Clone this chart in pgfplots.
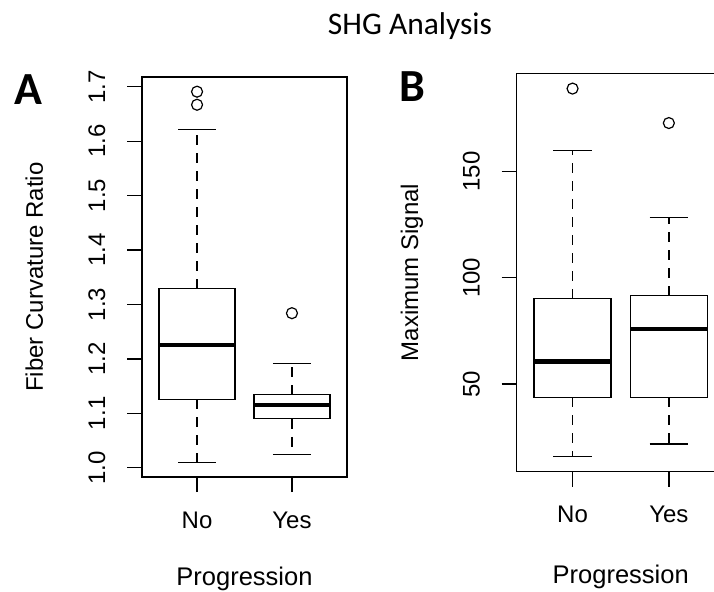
\documentclass[border=0pt]{standalone}
\usepackage{pgfplots}
\pgfplotsset{compat=1.18}
\usepgfplotslibrary{statistics}
\usepackage{fontspec}
\setmainfont{Liberation Sans}
\newfontfamily\carlito{Carlito}
\pgfplotsset{
  rbox/.style={
    scale only axis,
    axis line style={line width=1.3pt},
    tick pos=left, tick align=outside, major tick length=15pt,
    tick style={line width=1.3pt, black},
    xmin=0.42, xmax=2.58,
    xtick={1,2}, xticklabels={No,Yes},
    ticklabel style={font=\fontsize{24}{28}\selectfont},
    xticklabel style={yshift=-36pt, anchor=base, inner sep=0pt},
    yticklabel style={xshift=-22pt, rotate=90, anchor=base, inner sep=0pt},
    label style={font=\fontsize{24}{28}\selectfont},
    xlabel style={font=\fontsize{25.5}{30}\selectfont, anchor=base},
    ylabel style={anchor=base},
    /pgf/number format/assume math mode=true,
    boxplot/draw direction=y,
    boxplot/box extend=0.8,
    boxplot/whisker extend=0.4,
    boxplot/every box/.style={line width=1.3pt, black},
    boxplot/every median/.style={line width=4.5pt, black},
    boxplot/draw/lower whisker/.code={%
      \draw[line width=1.3pt, black, dash pattern=on 10pt off 8pt]
        (boxplot cs:\pgfplotsboxplotvalue{lower quartile}) -- (boxplot cs:\pgfplotsboxplotvalue{lower whisker});
      \draw[line width=1.3pt, black]
        (boxplot whisker cs:\pgfplotsboxplotvalue{lower whisker},0) -- (boxplot whisker cs:\pgfplotsboxplotvalue{lower whisker},1);
    },
    boxplot/draw/upper whisker/.code={%
      \draw[line width=1.3pt, black, dash pattern=on 10pt off 8pt]
        (boxplot cs:\pgfplotsboxplotvalue{upper quartile}) -- (boxplot cs:\pgfplotsboxplotvalue{upper whisker});
      \draw[line width=1.3pt, black]
        (boxplot whisker cs:\pgfplotsboxplotvalue{upper whisker},0) -- (boxplot whisker cs:\pgfplotsboxplotvalue{upper whisker},1);
    },
  },
  rmark/.style={black, mark=o, mark size=5.5pt, mark options={line width=1.2pt, solid}},
}
\begin{document}
\begin{tikzpicture}
\node[anchor=base, inner sep=0pt, font=\carlito\fontsize{31.5}{36}\selectfont] at (410pt,556pt) {SHG Analysis};
\node[anchor=base west, inner sep=0pt, font=\carlito\bfseries\fontsize{46}{50}\selectfont] at (14pt,486pt) {A};
\node[anchor=base west, inner sep=0pt, font=\carlito\bfseries\fontsize{46}{50}\selectfont] at (399pt,489pt) {B};

\begin{scope}[shift={(142pt,114pt)}]
\begin{axis}[rbox,
  width=205pt, height=400pt,
  ymin=0.983, ymax=1.718,
  ytick={1,1.1,1.2,1.3,1.4,1.5,1.6,1.7},
  yticklabels={1.0,1.1,1.2,1.3,1.4,1.5,1.6,1.7},
  xlabel={Progression}, ylabel={Fiber Curvature Ratio},
  xlabel style={at={(axis description cs:0.5,-0.2718)}},
  ylabel style={at={(axis description cs:-0.483,0.5)}},
]
\addplot[rmark, boxplot prepared={draw position=1,
  lower whisker=1.010, lower quartile=1.126, median=1.226,
  upper quartile=1.329, upper whisker=1.621}]
  coordinates {(0,1.691) (0,1.667)};
\addplot[rmark, boxplot prepared={draw position=2,
  lower whisker=1.0245, lower quartile=1.090, median=1.115,
  upper quartile=1.134, upper whisker=1.191}]
  coordinates {(0,1.284)};
\end{axis}
\end{scope}

\begin{scope}[shift={(516.7pt,119.5pt)}]
\begin{axis}[rbox,
  width=208pt, height=397.8pt,
  ymin=8.9, ymax=195.9,
  ytick={50,100,150}, yticklabels={50,100,150},
  xlabel={Progression}, ylabel={Maximum Signal},
  xlabel style={at={(axis description cs:0.5,-0.2803)}},
  ylabel style={at={(axis description cs:-0.4745,0.5)}},
]
\addplot[rmark, boxplot prepared={draw position=1,
  lower whisker=15.8, lower quartile=43.7, median=60.5,
  upper quartile=90.2, upper whisker=159.8}]
  coordinates {(0,188.9)};
\addplot[rmark, boxplot prepared={draw position=2,
  lower whisker=21.8, lower quartile=43.7, median=75.9,
  upper quartile=91.6, upper whisker=128.3}]
  coordinates {(0,172.7)};
\end{axis}
\end{scope}
\pgfresetboundingbox
\useasboundingbox (0pt,0pt) rectangle (714pt,591pt);
\end{tikzpicture}
\end{document}
